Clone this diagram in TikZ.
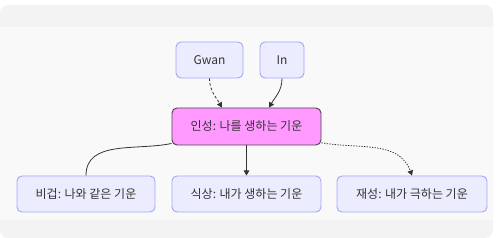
\documentclass[tikz,border=0pt]{standalone}
\usepackage{fontspec}
\setmainfont{Noto Sans CJK KR}
\usetikzlibrary{arrows.meta}
\definecolor{bgout}{HTML}{F3F3F3}
\definecolor{bgin}{HTML}{F9F9F9}
\definecolor{boxfill}{HTML}{ECECFF}
\definecolor{boxline}{HTML}{A4A4FF}
\definecolor{pinkfill}{HTML}{FF99FF}
\definecolor{ink}{HTML}{333333}
\tikzset{
  box/.style={draw=boxline, fill=boxfill, rounded corners=3.75pt, line width=0.7pt,
    minimum height=27pt, text=ink, font=\fontsize{9}{10}\selectfont},
  mainbox/.style={box, draw=ink!90, fill=pinkfill},
  link/.style={draw=ink, line width=0.6pt},
  tip/.style={-{Triangle[length=3.8pt,width=4.2pt]}}
}
\begin{document}
\begin{tikzpicture}[x=0.75pt,y=0.75pt]
		\useasboundingbox (0,0) rectangle (500,238);
		\fill[bgout, rounded corners=6pt] (0,0) -- (0,233) -- (493,233) -- (493,0) -- cycle;
		\fill[bgin] (0,18) rectangle (493,211);

		\node[box, minimum width=50.25pt] (gwan) at (209.5,178) {Gwan};
		\node[box, minimum width=33pt] (in) at (282,178) {In};
		\node[mainbox, minimum width=111.75pt, minimum height=27.75pt] (yin) at (246.5,111.5) {인성: 나를 생하는 기운};
		\node[box, minimum width=103.5pt] (bijie) at (86,44) {비겁: 나와 같은 기운};
		\node[box, minimum width=111.75pt] (shisang) at (246.5,44) {식상: 내가 생하는 기운};
		\node[box, minimum width=112.5pt] (jaesung) at (412,44) {재성: 내가 극하는 기운};

		\draw[link, tip, dash pattern=on 2pt off 1.5pt] (gwan.south) to[out=-90,in=120] ([xshift=-18.4pt]yin.north);
		\draw[link, tip] (in.south) to[out=-90,in=60] ([xshift=16.9pt]yin.north);
		\draw[link] ([yshift=1.5pt]yin.south west) to[out=192,in=90] (bijie.north);
		\draw[link, tip] (yin.south) -- (shisang.north);
		\draw[link, tip, dash pattern=on 1pt off 1pt] ([yshift=2pt]yin.south east) to[out=-10,in=110] (jaesung.north);
	\end{tikzpicture}
\end{document}
